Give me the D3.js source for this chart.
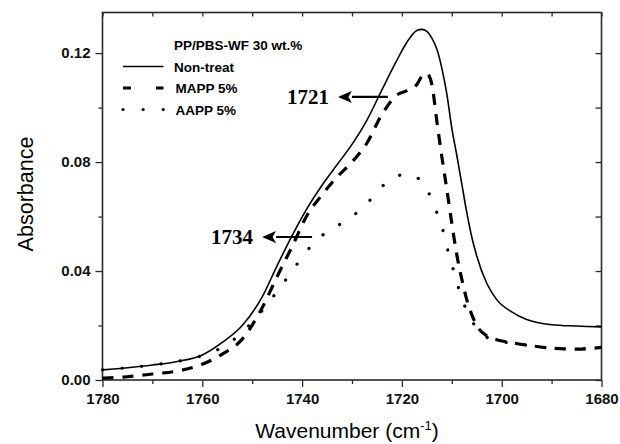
<!DOCTYPE html>
<html>
<head>
<meta charset="utf-8">
<script src="https://cdn.jsdelivr.net/npm/d3@7"></script>
<style>
  body { margin: 0; background: #fff; }
  svg { display: block; }
</style>
</head>
<body>
<svg width="620" height="444"></svg>
<script>
// wavenumber grid (cm-1) and absorbance
var wavenumbers = [1780, 1775, 1770, 1765, 1760, 1756, 1752, 1748, 1745, 1742, 1739, 1736, 1733, 1730, 1727, 1724, 1721, 1719, 1717, 1716, 1715, 1714, 1713, 1712, 1711, 1710, 1709, 1708, 1707, 1706, 1705, 1703, 1701, 1698, 1695, 1690, 1685, 1680];
var nonTreat = [0.0037, 0.0045, 0.0055, 0.0068, 0.0092, 0.0138, 0.0200, 0.0305, 0.0420, 0.0530, 0.0630, 0.0715, 0.0790, 0.0865, 0.0954, 0.1065, 0.1174, 0.1240, 0.1283, 0.1287, 0.1280, 0.1255, 0.1215, 0.1145, 0.1050, 0.0925, 0.0825, 0.0720, 0.0615, 0.0525, 0.0455, 0.0355, 0.0295, 0.0250, 0.0222, 0.0203, 0.0198, 0.0195];
var mapp = [0.0007, 0.0012, 0.0022, 0.0033, 0.0058, 0.0095, 0.0150, 0.0265, 0.0380, 0.0490, 0.0605, 0.0680, 0.0745, 0.0800, 0.0870, 0.0975, 0.1046, 0.1062, 0.1085, 0.1115, 0.1125, 0.1085, 0.0950, 0.0820, 0.0700, 0.0575, 0.0460, 0.0370, 0.0295, 0.0240, 0.0200, 0.0162, 0.0148, 0.0137, 0.0128, 0.0117, 0.0113, 0.0120];
var aapp = [0.0037, 0.0045, 0.0055, 0.0068, 0.0090, 0.0120, 0.0175, 0.0255, 0.0325, 0.0400, 0.0475, 0.0530, 0.0565, 0.0600, 0.0648, 0.0710, 0.0748, 0.0756, 0.0743, 0.0730, 0.0700, 0.0663, 0.0615, 0.0565, 0.0490, 0.0425, 0.0360, 0.0300, 0.0255, 0.0218, 0.0190, 0.0157, 0.0145, 0.0135, 0.0128, 0.0117, 0.0114, 0.0122];

var seriesNames = ["Non-treat", "MAPP 5%", "AAPP 5%"];
var legendTitle = "PP/PBS-WF 30 wt.%";
var xMajor = [1780, 1760, 1740, 1720, 1700, 1680];
var xMinor = [1770, 1750, 1730, 1710, 1690];
var yMajor = [0, 0.04, 0.08, 0.12];
var yMinor = [0.02, 0.06, 0.10];
// arrow tail position (wavenumber, absorbance); arrow points left
var peakLabels = [{ text: "1721", wn: 1722.8, a: 0.1039, len: 50 },
                  { text: "1734", wn: 1738.0, a: 0.0525, len: 50 }];

var svg = d3.select("svg");
var plotL = 102.5, plotR = 601.5, plotT = 12.5, plotB = 380;

var x = d3.scaleLinear().domain([1780, 1680]).range([plotL, plotR]);
var y = d3.scaleLinear().domain([0, 0.1349]).range([plotB, plotT]);

var frameColor = "#2a2a2a";
var tickFont = "'Liberation Sans', Arial, sans-serif";

// axes: major ticks with labels, minor ticks without
function styleAxis(g) {
  g.select(".domain").remove();
  g.selectAll(".tick line").attr("stroke", frameColor).attr("stroke-width", 1.3);
  g.selectAll(".tick text")
    .attr("fill", "#111")
    .style("font-family", tickFont)
    .style("font-size", "15px")
    .style("font-weight", "bold");
}

svg.append("g").attr("transform", "translate(0," + plotB + ")")
  .call(d3.axisBottom(x).tickValues(xMajor).tickSize(7).tickPadding(6).tickFormat(d3.format("d")))
  .call(styleAxis);
svg.append("g").attr("transform", "translate(0," + plotB + ")")
  .call(d3.axisBottom(x).tickValues(xMinor).tickSize(4).tickFormat(""))
  .call(styleAxis);
svg.append("g").attr("transform", "translate(" + plotL + ",0)")
  .call(d3.axisLeft(y).tickValues(yMajor).tickSize(7).tickPadding(5).tickFormat(d3.format(".2f")))
  .call(styleAxis);
svg.append("g").attr("transform", "translate(" + plotL + ",0)")
  .call(d3.axisLeft(y).tickValues(yMinor).tickSize(4).tickFormat(""))
  .call(styleAxis);
svg.append("g").attr("transform", "translate(0," + plotT + ")")
  .call(d3.axisTop(x).tickValues(xMajor.concat(xMinor)).tickSize(-4).tickFormat(""))
  .call(styleAxis);
svg.append("g").attr("transform", "translate(" + plotR + ",0)")
  .call(d3.axisRight(y).tickValues(yMajor.concat(yMinor)).tickSize(-6).tickFormat(""))
  .call(styleAxis);

svg.append("rect")
  .attr("x", plotL).attr("y", plotT)
  .attr("width", plotR - plotL).attr("height", plotB - plotT)
  .attr("fill", "none").attr("stroke", frameColor).attr("stroke-width", 1.6);

// curves
var line = d3.line()
  .x(function(d) { return x(d[0]); })
  .y(function(d) { return y(d[1]); })
  .curve(d3.curveMonotoneX);

var styles = [
  { data: nonTreat, width: 1.6, dash: null, cap: "butt", legendDash: null },
  { data: mapp, width: 3.2, dash: "11,9", cap: "butt", legendDash: "8,25" },
  { data: aapp, width: 3.2, dash: "0.1,19.5", cap: "round", legendDash: "0.1,20" }
];

styles.forEach(function(s) {
  var pts = wavenumbers.map(function(w, i) { return [w, s.data[i]]; });
  svg.append("path")
    .attr("d", line(pts))
    .attr("fill", "none")
    .attr("stroke", "#000")
    .attr("stroke-width", s.width)
    .attr("stroke-linecap", s.cap)
    .attr("stroke-dasharray", s.dash);
});

// legend
var legend = svg.append("g")
  .style("font-family", tickFont)
  .style("font-weight", "bold")
  .style("font-size", "13.5px");

legend.append("text").attr("x", 174).attr("y", 50).text(legendTitle);

seriesNames.forEach(function(name, i) {
  var ly = 66.5 + i * 21.5;
  legend.append("line")
    .attr("x1", 123).attr("x2", 163.5)
    .attr("y1", ly).attr("y2", ly)
    .attr("stroke", "#000")
    .attr("stroke-width", styles[i].width)
    .attr("stroke-linecap", styles[i].cap)
    .attr("stroke-dasharray", styles[i].legendDash);
  legend.append("text").attr("x", i == 0 ? 174 : 175.5).attr("y", ly + 5).text(name);
});

// peak annotations with arrows
svg.append("defs").append("marker")
  .attr("id", "head")
  .attr("viewBox", "0 0 14 12")
  .attr("refX", 0).attr("refY", 6)
  .attr("markerWidth", 14).attr("markerHeight", 12)
  .attr("markerUnits", "userSpaceOnUse")
  .attr("orient", "auto")
  .append("path").attr("d", "M0,0 L14,6 L0,12 L3.5,6 Z").attr("fill", "#000");

peakLabels.forEach(function(p) {
  var px = x(p.wn), py = y(p.a);
  svg.append("line")
    .attr("x1", px).attr("y1", py)
    .attr("x2", px - p.len + 14).attr("y2", py)
    .attr("stroke", "#000").attr("stroke-width", 2.2)
    .attr("marker-end", "url(#head)");
  svg.append("text")
    .attr("x", px - p.len - 9).attr("y", py + 7.5)
    .attr("text-anchor", "end")
    .style("font-family", "'Liberation Serif', 'Times New Roman', serif")
    .style("font-weight", "bold")
    .style("font-size", "21px")
    .text(p.text);
});

// axis titles
svg.append("text")
  .attr("transform", "translate(33,194) rotate(-90)")
  .attr("text-anchor", "middle")
  .style("font-family", tickFont)
  .style("font-size", "21.5px")
  .text("Absorbance");

var xt = svg.append("text")
  .attr("x", 347).attr("y", 438)
  .attr("text-anchor", "middle")
  .style("font-family", tickFont)
  .style("font-size", "21px");
xt.append("tspan").text("Wavenumber (cm");
xt.append("tspan").attr("dy", -8).style("font-size", "13px").text("-1");
xt.append("tspan").attr("dy", 8).text(")");
</script>
</body>
</html>
